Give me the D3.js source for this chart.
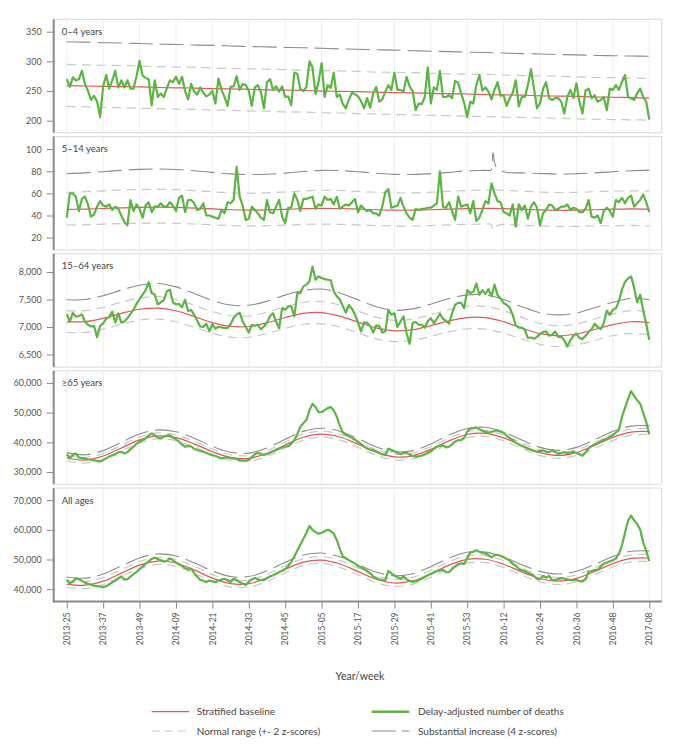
<!DOCTYPE html>
<html><head><meta charset="utf-8">
<script src="https://cdn.jsdelivr.net/npm/d3@7"></script>
<style>body{margin:0;background:#fff;} svg{display:block;font-family:Lato,"Noto Sans",sans-serif;}</style>
</head><body><svg id="chart" width="676" height="747"></svg>
<script>
// ---------- data ----------
const weekLabels = ["2013-25","2013-37","2013-49","2014-09","2014-21","2014-33","2014-45","2015-05","2015-17","2015-29","2015-41","2015-53","2016-12","2016-24","2016-36","2016-48","2017-08"];
const panelNames = ["0–4 years","5–14 years","15–64 years","≥65 years","All ages"];
const yTicks04 = [200,250,300,350];
const yTicks514 = [20,40,60,80,100];
const yTicks1564 = [6500,7000,7500,8000];
const yTicks65 = [30000,40000,50000,60000];
const yTicksAll = [40000,50000,60000,70000];

// weekly delay-adjusted deaths, week 0 = 2013-25 ... week 192 = 2017-08
const deaths04 = [270,257,273,268,270,284,262,250,235,242,232,206,258,277,254,268,284,256,268,256,268,254,254,275,301,276,272,270,226,268,240,246,240,255,268,265,274,262,274,250,236,262,249,244,256,247,241,244,250,229,271,252,240,225,257,258,275,252,262,260,250,225,256,260,248,221,265,270,252,258,249,258,240,241,226,281,279,253,250,257,300,290,245,265,297,240,260,255,281,240,244,228,221,236,247,245,241,233,221,238,222,246,257,232,236,249,260,252,281,252,252,249,274,258,250,218,229,228,240,290,229,256,252,284,240,240,243,238,267,264,246,230,206,232,229,260,277,251,256,249,236,252,265,242,243,225,238,247,268,224,240,240,260,287,254,221,229,254,265,238,235,238,238,232,212,240,252,238,263,232,212,251,254,238,243,232,235,240,218,254,252,260,252,265,277,240,238,235,246,254,240,232,202];
const deaths514 = [38,60,60,57,44,55,57,50,39,41,48,53,49,48,50,45,48,46,40,34,31,54,44,50,46,38,49,52,43,48,48,51,48,48,52,49,44,56,58,43,54,54,51,45,46,51,40,40,39,38,37,45,42,52,51,54,84,57,49,36,37,48,45,42,38,36,54,43,42,48,54,39,33,47,47,60,54,44,55,55,56,57,46,50,49,57,54,55,50,57,46,48,50,49,52,55,43,49,46,44,45,42,42,40,48,61,64,47,48,49,56,48,42,38,36,46,45,46,46,47,47,49,51,80,48,47,52,44,36,57,48,49,50,42,53,35,38,45,53,51,69,60,53,52,43,42,40,50,30,50,45,49,37,48,52,47,31,42,45,50,49,45,46,48,48,50,45,47,46,43,43,46,54,39,38,40,33,44,47,44,39,54,52,56,51,56,58,48,51,54,59,52,43];
const deaths1564 = [7235,7100,7255,7190,7200,7230,7100,7040,7010,7022,6815,7022,7065,7150,7180,7280,7083,7250,7080,7100,7160,7240,7314,7420,7510,7590,7670,7812,7617,7590,7410,7450,7490,7650,7680,7450,7410,7420,7360,7496,7290,7310,7220,7120,7010,7000,7060,6920,7050,6970,7005,6992,6985,6980,7050,7162,7230,7260,7100,7000,6900,7040,7022,7040,6960,7010,7080,7200,7250,7100,6980,7344,7314,7374,7374,7192,7617,7617,7739,7770,7830,8100,7860,7921,7891,7872,7860,7850,7648,7560,7500,7380,7260,7400,7330,7230,7080,6920,7083,7075,7020,6900,7030,7020,6900,6920,7301,7225,7250,7000,7100,7192,6890,6694,7075,7090,7040,7040,6985,7110,7160,7070,7150,7240,7150,7110,7060,7250,7405,7440,7440,7344,7670,7617,7640,7790,7587,7670,7600,7690,7560,7770,7580,7520,7435,7405,7350,7220,7030,6990,6990,6950,6800,6810,6785,6820,6870,6910,6920,6840,6858,6919,6820,6825,6760,6645,6760,6840,6880,6800,6780,6840,6910,6960,7060,7000,6960,7070,7300,7220,7314,7340,7470,7680,7820,7880,7921,7720,7450,7587,7300,7060,6767];
const deaths65 = [36000,34600,35700,36250,34900,34700,34500,34300,34200,33900,33800,33500,34000,34600,35200,35600,36000,36600,36800,36200,36700,37700,38500,39500,40200,40800,41300,42300,43000,42300,41600,41300,41900,42300,42400,41600,41000,40200,39300,38500,38800,38600,37800,37400,37100,36800,36500,36000,35700,35400,35000,34600,34800,34900,34700,34600,34300,34000,33900,33800,34100,35000,36000,36500,36100,35700,36100,36500,37000,37400,37900,38300,38600,38700,39500,40700,42800,45200,46500,47500,50800,53000,51900,50100,50200,50800,51500,51900,50800,48600,45600,43300,42600,42000,41500,40900,40100,39400,38600,37900,37600,37400,37000,36400,36000,35700,37900,37400,37000,36500,36000,36500,36400,35900,35400,35200,35300,35500,35900,36500,37000,37800,38500,38800,39000,38300,38500,39300,40200,40700,40700,41500,43600,44600,44800,45000,44400,43900,43500,43300,43500,43900,44000,43600,43200,42200,41400,40700,39900,39300,38800,38300,37800,37500,37100,36800,37100,37300,36800,36700,37300,36800,36100,36400,36700,36400,36500,36800,36400,36000,35500,36600,38000,38800,39300,39700,40300,40900,41300,41900,42400,43300,44200,48600,51600,54500,57200,55600,54200,53000,49900,46800,42700];
const deathsAll = [43200,42000,42500,43700,43300,42800,42200,41800,41500,41200,41000,40900,40700,41000,41600,42300,42900,43600,44300,43200,43400,44200,45000,45800,46700,47600,48600,49400,50200,50600,50200,49700,49300,49500,50400,49700,49000,48400,47800,47100,46600,46900,45400,44200,43200,42800,42400,42900,42600,42400,42900,43200,43500,43000,42400,43500,43000,42400,41800,41400,42500,43300,43800,43200,43000,43000,43700,44300,44700,45200,45800,46200,46800,47800,49200,51000,53000,55000,57000,59000,61300,60000,59200,58700,59000,59500,60000,59600,58700,56600,53600,51000,50400,49800,49200,48600,47900,47300,46700,46100,45400,44200,43800,43300,43100,43000,46100,45300,44600,44000,43500,44300,43300,42800,42400,42600,43000,43600,44100,44700,45100,45600,46100,46300,46500,45700,45700,46800,47600,48400,48700,48500,50500,52300,52600,53100,52600,52200,52000,51500,50700,51400,51600,51200,50800,50200,49700,48600,47900,46900,46400,46100,45500,45100,44500,43400,43400,44400,43900,44500,43000,43100,43400,43700,43600,43300,43100,43000,43100,42700,42600,43400,45800,46100,46400,46500,47600,48600,48900,49400,49700,50400,52000,54700,59000,63000,64800,63200,62000,60100,55700,53000,49500];

// baseline and thresholds, read every 6 weeks
const bandWeeks = [0,6,12,18,24,30,36,42,48,54,60,66,72,78,84,90,96,102,108,114,120,126,132,138,144,150,156,162,168,174,180,186,192];
const bandWeeks514 = [0,6,12,18,24,30,36,42,48,54,60,66,72,78,84,90,96,102,108,114,120,126,132,138,139.8,140.5,141.5,144,150,156,162,168,174,180,186,192];

const baseline04 = [259,258.5,258,257.5,257,256,255.5,255,254,253.5,253,252,251.5,251,250,249.5,249,248,247.5,247,246,245.5,245,244,243.5,243,242,241.5,241,240,239.5,239,238];
const normalHigh04 = [295,294,293.5,293,292,291,290.5,290,289,288,287.5,287,286,285,284.5,284,283,282,281.5,281,280,279,278.5,278,277,276,275.5,275,274,273,272.5,272,271];
const normalLow04 = [224,223.5,222.5,222,221,220.5,219.5,219,218,217.5,216.5,216,215,214.5,213.5,213,212,211.5,210.5,210,209,208.5,207.5,207,206,205.5,204.5,204,203,202.5,202,201.5,201];
const substantial04 = [333,332.5,331.5,331,330,329,328.5,327.5,327,326,325,324.5,323.5,323,322,321,320.5,319.5,319,318,317,316.5,315.5,315,314,313,312.5,311.5,311,310,309.5,309,308.5];

const baseline514 = [45.5,45.8,46.3,46.9,47.3,47.5,47.3,46.7,45.9,45.2,44.9,45.1,45.6,46.2,46.5,46.3,45.8,45.2,44.8,44.8,45.2,45.8,46.3,46.5,46.4,46.4,46.3,46.2,45.6,45.0,44.7,44.8,45.2,45.7,46.0,45.8];
const normalHigh514 = [61,61.5,62.3,63,63.5,63.6,63.3,62.5,61.5,60.5,60.2,60.5,61.2,62.2,62.8,62.6,61.8,61,60.4,60.4,61,61.8,62.6,63,63,68,63.5,62.9,62,61.2,60.8,61,61.5,62,62.3,62];
const normalLow514 = [31.4,31.6,32.2,32.7,33,33.1,32.9,32.3,31.6,30.9,30.6,30.8,31.3,31.9,32.2,32,31.5,30.9,30.5,30.5,30.9,31.5,32,32.1,32,27,30.5,31.8,31.2,30.6,30.2,30.2,30.5,30.8,31,30.5];
const substantial514 = [78,78.5,79.6,80.8,81.7,82,81.6,80.4,79,77.6,77,77.3,78.3,79.7,80.8,80.6,79.5,78.2,77.2,77.1,77.8,79,80.4,80.8,81,97,84,79.5,78.5,78,77.5,77.8,78.5,79.5,80.5,81];

const baseline1564 = [7095,7098,7158,7248,7323,7344,7295,7192,7079,7010,7009,7076,7173,7249,7261,7198,7088,6983,6931,6952,7025,7113,7172,7170,7095,6980,6880,6840,6873,6954,7044,7096,7080];
const normalHigh1564 = [7295,7298,7360,7450,7528,7552,7500,7395,7280,7205,7200,7270,7370,7450,7462,7400,7288,7180,7122,7145,7222,7315,7378,7375,7295,7175,7065,7022,7055,7145,7240,7298,7280];
const normalLow1564 = [6905,6903,6960,7050,7125,7145,7095,6995,6885,6815,6814,6880,6975,7050,7058,7000,6890,6785,6735,6755,6828,6915,6965,6960,6890,6780,6685,6645,6675,6755,6845,6880,6870];
const substantial1564 = [7495,7500,7570,7670,7760,7790,7730,7610,7480,7400,7395,7470,7580,7665,7690,7620,7495,7370,7305,7330,7415,7520,7585,7585,7500,7370,7260,7220,7255,7350,7450,7520,7500];

const baseline65 = [34720,34030,35385,38100,40820,42170,41570,39460,36825,34915,34620,36280,39120,41710,42750,41775,39340,36675,35115,35460,37615,40485,42640,43000,41480,38900,36545,35600,36550,38950,41675,43455,43600];
const normalHigh65 = [35620,34930,36290,39020,41780,43150,42550,40400,37730,35815,35520,37190,40060,42690,43750,42760,40270,37580,36015,36360,38530,41440,43620,44000,42450,39820,37450,36500,37460,39880,42650,44450,44600];
const normalLow65 = [33720,33030,34385,37100,39800,41150,40560,38460,35825,33915,33620,35280,38120,40690,41750,40760,38340,35675,34115,34460,36615,39480,41620,42000,40470,37900,35545,34600,35550,37950,40660,42440,42600];
const substantial65 = [36520,35800,37200,40000,42780,44170,43550,41400,38620,36650,36350,38100,41020,43680,44750,43750,41250,38450,36850,37200,39450,42450,44640,45050,43450,40750,38300,37300,38300,40900,43650,45450,45600];

const baselineAll = [41700,41330,42685,45400,48120,49470,48805,46500,43715,41860,41860,43780,46680,49090,49780,48490,45925,43350,42080,42775,45185,48090,50035,50070,48400,45840,43590,42700,43625,45960,48625,50360,50500];
const normalHighAll = [42900,42530,43885,46600,49320,50670,50005,47700,44915,43060,43060,44980,47880,50290,50980,49690,47125,44550,43280,43975,46385,49290,51235,51270,49600,47040,44790,43900,44825,47160,49825,51560,51700];
const normalLowAll = [40550,40180,41535,44250,46970,48320,47655,45350,42565,40710,40710,42630,45530,47940,48630,47340,44775,42200,40930,41625,44035,46940,48885,48920,47250,44690,42440,41550,42475,44810,47475,49210,49350];
const substantialAll = [44100,43730,45085,47800,50520,51870,51205,48900,46115,44260,44260,46180,49080,51490,52180,50890,48325,45750,44480,45175,47585,50490,52435,52470,50800,48240,45990,45100,46025,48360,51025,52760,52900];

const yDomains = [[179.8,370.9],[8.9,111.4],[6271,8333],[25870,64030],[35840,74060]];

const legendLabels = ["Stratified baseline","Delay-adjusted number of deaths","Normal range (+- 2 z-scores)","Substantial increase (4 z-scores)"];

// ---------- build ----------
const panels = [
  {name:panelNames[0], deaths:deaths04, weeks:bandWeeks, base:baseline04, hi:normalHigh04, lo:normalLow04, sub:substantial04, ticks:yTicks04, domain:yDomains[0]},
  {name:panelNames[1], deaths:deaths514, weeks:bandWeeks514, base:baseline514, hi:normalHigh514, lo:normalLow514, sub:substantial514, ticks:yTicks514, domain:yDomains[1]},
  {name:panelNames[2], deaths:deaths1564, weeks:bandWeeks, base:baseline1564, hi:normalHigh1564, lo:normalLow1564, sub:substantial1564, ticks:yTicks1564, domain:yDomains[2]},
  {name:panelNames[3], deaths:deaths65, weeks:bandWeeks, base:baseline65, hi:normalHigh65, lo:normalLow65, sub:substantial65, ticks:yTicks65, domain:yDomains[3]},
  {name:panelNames[4], deaths:deathsAll, weeks:bandWeeks, base:baselineAll, hi:normalHighAll, lo:normalLowAll, sub:substantialAll, ticks:yTicksAll, domain:yDomains[4]}
];

const C = {green:"#5cb445", red:"#e35757", light:"#c8c8c8", dark:"#8c8c8c", border:"#dadada", grid:"#eeeeee", axis:"#8a8a8a", text:"#555"};
const svg = d3.select("#chart");
const left = 53.7, right = 661.7, top0 = 19.3, panelH = 113.4, step = 117.2;
const x = d3.scaleLinear().domain([-4.3, 196.1]).range([left, right]);
const tickWeeks = weekLabels.map((_, i) => i * 12);

panels.forEach((p, i) => {
  const t = top0 + i * step, b = t + panelH;
  const y = d3.scaleLinear().domain(p.domain).range([b, t]);
  const g = svg.append("g");
  g.append("rect").attr("x", left).attr("y", t).attr("width", right - left).attr("height", panelH)
    .attr("fill", "#fff").attr("stroke", C.border).attr("stroke-width", 1);
  g.selectAll("line.grid").data(tickWeeks).join("line").attr("class","grid")
    .attr("x1", d => x(d)).attr("x2", d => x(d)).attr("y1", t + 0.5).attr("y2", b - 0.5)
    .attr("stroke", C.grid).attr("stroke-width", 1);

  const band = arr => d3.line().x((d, k) => x(p.weeks[k])).y(d => y(d)).curve(d3.curveCatmullRom.alpha(0.5))(arr);
  g.append("path").attr("d", band(p.lo)).attr("fill","none").attr("stroke", C.light).attr("stroke-width",1.2).attr("stroke-dasharray","9,6");
  g.append("path").attr("d", band(p.hi)).attr("fill","none").attr("stroke", C.light).attr("stroke-width",1.2).attr("stroke-dasharray","9,6");
  g.append("path").attr("d", band(p.sub)).attr("fill","none").attr("stroke", C.dark).attr("stroke-width",1.1).attr("stroke-dasharray","24,7");
  g.append("path").attr("d", band(p.base)).attr("fill","none").attr("stroke", C.red).attr("stroke-width",1.2);
  const line = d3.line().x((d, k) => x(k)).y(d => y(d));
  g.append("path").attr("d", line(p.deaths)).attr("fill","none").attr("stroke", C.green).attr("stroke-width",2.2).attr("stroke-linejoin","round");

  g.append("text").attr("x", left + 8).attr("y", t + 15.5).text(p.name)
    .attr("font-size", 9.5).attr("fill", "#444");

  const ax = g.append("g").attr("transform", `translate(${left},0)`)
    .call(d3.axisLeft(y).tickValues(p.ticks).tickSize(7).tickPadding(5).tickFormat(d3.format(",")));
  ax.select(".domain").remove();
  ax.selectAll(".tick line").attr("stroke", C.axis);
  ax.selectAll(".tick text").attr("fill", C.text).attr("font-size", 9).attr("font-family", "Lato, 'Noto Sans', sans-serif");
  g.append("line").attr("x1", left).attr("x2", left).attr("y1", t).attr("y2", b + (i === 4 ? 1 : 0))
    .attr("stroke", C.axis).attr("stroke-width", 2);
});

// x axis
const xb = top0 + 4 * step + panelH;
const xa = svg.append("g").attr("transform", `translate(0,${xb})`)
  .call(d3.axisBottom(x).tickValues(tickWeeks).tickSize(7).tickFormat((d, i) => weekLabels[i]));
xa.select(".domain").attr("stroke", C.axis).attr("stroke-width", 2).attr("d", `M${left},0H${right}`);
xa.selectAll(".tick line").attr("stroke", C.axis);
xa.selectAll(".tick text").attr("transform","rotate(-90)").attr("x", -11).attr("y", 0).attr("dy","0.32em")
  .attr("text-anchor","end").attr("fill", C.text).attr("font-size", 8.5).attr("font-family","Lato, 'Noto Sans', sans-serif");

svg.append("text").attr("x", 360).attr("y", 679.5).attr("text-anchor","middle").text("Year/week")
  .attr("font-size", 10.5).attr("fill", "#444");

// legend
const leg = [
  {x:151.7, y:711.7, label:legendLabels[0], stroke:C.red, w:1.2, dash:null},
  {x:371.7, y:711.7, label:legendLabels[1], stroke:C.green, w:2.6, dash:null},
  {x:151.7, y:731, label:legendLabels[2], stroke:C.light, w:1.2, dash:"8,5"},
  {x:371.7, y:731, label:legendLabels[3], stroke:C.dark, w:1.1, dash:"24,6"}
];
leg.forEach(l => {
  svg.append("line").attr("x1", l.x).attr("x2", l.x + 37.6).attr("y1", l.y).attr("y2", l.y)
    .attr("stroke", l.stroke).attr("stroke-width", l.w).attr("stroke-dasharray", l.dash);
  svg.append("text").attr("x", l.x + (l.x < 300 ? 45 : 46.3)).attr("y", l.y).attr("dy","0.35em")
    .text(l.label).attr("font-size", 10).attr("fill", "#444");
});
</script></body></html>
